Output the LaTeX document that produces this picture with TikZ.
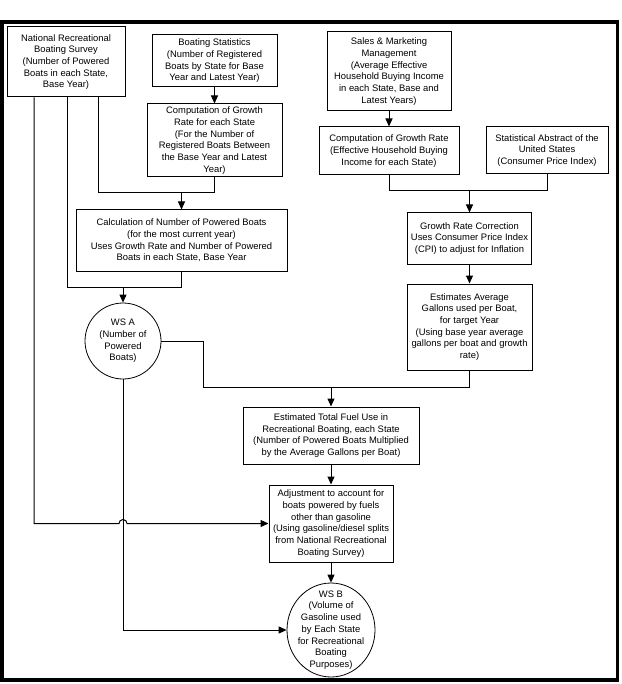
\documentclass[tikz,border=0pt]{standalone}
\usepackage{fontspec}
\setmainfont{Liberation Sans}
\usetikzlibrary{arrows.meta,shapes.geometric,calc}
\tikzset{
  box/.style={draw, line width=1pt, align=center, inner sep=0pt, font=\fontsize{9.4}{11.7}\selectfont},
  roundnode/.style={draw, line width=0.8pt, circle, inner sep=0pt},
  ovalnode/.style={draw, line width=0.8pt, ellipse, inner sep=0pt},
  inlabel/.style={align=center, inner sep=0pt, font=\fontsize{9.4}{11.7}\selectfont},
  link/.style={line width=1pt},
  arr/.style={line width=1pt, -{Triangle[length=8pt,width=7pt]}},
  frame/.style={line width=3.5pt}
}
\begin{document}
\begin{tikzpicture}[x=1pt,y=-1pt]
\useasboundingbox (0,0) rectangle (621,684);
\draw[frame] (1.75,22) rectangle (617.5,680);

\node[box, minimum width=118pt, minimum height=70pt] (N1) at (66,62)
  {National Recreational\\Boating Survey\\(Number of Powered\\Boats in each State,\\Base Year)};
\node[box, minimum width=125pt, minimum height=52pt] (N2) at (214.5,61)
  {Boating Statistics\\(Number of Registered\\Boats by State for Base\\Year and Latest Year)};
\node[box, minimum width=135pt, minimum height=73pt] (N3) at (214.5,140.5)
  {Computation of Growth\\Rate for each State\\(For the Number of\\Registered Boats Between\\the Base Year and Latest\\Year)};
\node[box, minimum width=124pt, minimum height=79pt] (N4) at (389,71.5)
  {Sales \& Marketing\\Management\\(Average Effective\\Household Buying Income\\in each State, Base and\\Latest Years)};
\node[box, minimum width=140pt, minimum height=48pt] (N5) at (389,151)
  {Computation of Growth Rate\\(Effective Household Buying\\Income for each State)};
\node[box, minimum width=122pt, minimum height=47pt] (N6) at (547,150.5)
  {Statistical Abstract of the\\United States\\(Consumer Price Index)};
\node[box, minimum width=211pt, minimum height=61pt] (N7) at (181.5,240.5)
  {Calculation of Number of Powered Boats\\(for the most current year)\\Uses Growth Rate and Number of Powered\\Boats in each State, Base Year};
\node[box, minimum width=124pt, minimum height=51pt] (N8) at (469.5,238.5)
  {Growth Rate Correction\\Uses Consumer Price Index\\(CPI) to adjust for Inflation};
\node[box, minimum width=125pt, minimum height=86pt] (N9) at (469.5,327)
  {Estimates Average\\Gallons used per Boat,\\for target Year\\(Using base year average\\gallons per boat and growth\\rate)};
\node[roundnode, minimum size=76pt] (C1) at (123,341) {};
\node[inlabel] (C1t) at (C1.center) {WS A\\(Number of\\Powered\\Boats)};
\node[box, minimum width=176pt, minimum height=57pt] (N10) at (331,435.5)
  {Estimated Total Fuel Use in\\Recreational Boating, each State\\(Number of Powered Boats Multiplied\\by the Average Gallons per Boat)};
\node[box, minimum width=124pt, minimum height=77pt] (N11) at (331,523.5)
  {Adjustment to account for\\boats powered by fuels\\other than gasoline\\(Using gasoline/diesel splits\\from National Recreational\\Boating Survey)};
\node[ovalnode, minimum width=88pt, minimum height=94pt] (C2) at (331,630) {};
\node[inlabel] (C2t) at (C2.center)
  {WS B\\(Volume of\\Gasoline used\\by Each State\\for Recreational\\Boating\\Purposes)};

% helper coordinates
\coordinate (xa) at (34,0);
\coordinate (xb) at (67,0);
\coordinate (xc) at (98,0);
\coordinate (xd) at (203,0);
\coordinate (jA) at (0,193);
\coordinate (jB) at (0,287);
\coordinate (jC) at (0,387);
\coordinate (jD) at (0,191);

% top-left cluster
\draw[arr] (N2.south) -- (N3.north);
\draw[link] (N1.south -| xc) |- (N3.south |- jA) -- (N3.south);
\draw[arr] (N7.north |- jA) -- (N7.north);
\draw[link] (N1.south -| xb) |- (N7.south |- jB) -- (N7.south);
\draw[arr] (C1.north |- jB) -- (C1.north);

% top-right cluster
\draw[arr] (N4.south) -- (N5.north);
\draw[link] (N5.south) |- (N6.south |- jD) -- (N6.south);
\draw[arr] (N8.north |- jD) -- (N8.north);
\draw[arr] (N8.south) -- (N9.south |- N9.north);

% merge into total fuel use
\draw[link] (C1.east) -- (xd |- C1.east) |- (N9.south |- jC) -- (N9.south);
\draw[arr] (N10.north |- jC) -- (N10.north);
\draw[arr] (N10.south) -- (N11.north);
\draw[arr] (N11.south) -- (C2.north);

% long left line with hop
\coordinate (hopL) at ($(C1.south |- N11.west)+(-4,0)$);
\draw[arr] (N1.south -| xa) -- (xa |- N11.west) -- (hopL)
  arc[start angle=180, end angle=0, radius=4pt] -- (N11.west);
\draw[arr] (C1.south) |- (C2.west);
\end{tikzpicture}
\end{document}
